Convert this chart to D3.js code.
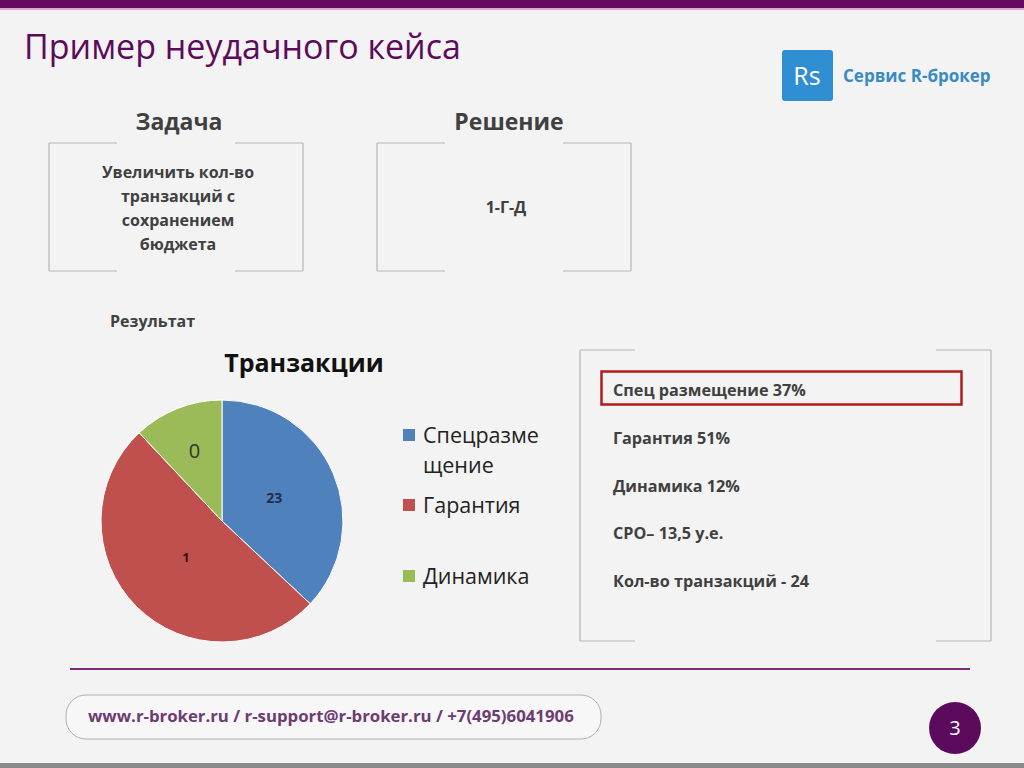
<!DOCTYPE html>
<html>
<head>
<meta charset="utf-8">
<script src="https://cdn.jsdelivr.net/npm/d3@7"></script>
<style>
	body { margin: 0; background: #f3f3f3; }
	text { font-family: "Open Sans", Lato, sans-serif; }
</style>
</head>
<body>
<script>
var width	= 1024,
	height	= 768;

// pie data
var categories	= ["Спецразмещение", "Гарантия", "Динамика"],
	legendLines	= [["Спецразме", "щение"], ["Гарантия"], ["Динамика"]],
	shares		= [37, 51, 12],
	sliceLabels	= ["23", "1", "0"],
	colors		= ["#4f81bd", "#c0504d", "#9bbb59"];

// text blocks
var taskLines	= ["Увеличить кол-во", "транзакций с", "сохранением", "бюджета"],
	solution	= "1-Г-Д",
	resultLines	= ["Спец размещение 37%", "Гарантия 51%", "Динамика 12%", "СРО– 13,5 у.е.", "Кол-во транзакций - 24"];

var svg = d3.select("body")
	.append("svg")
	.attr("width", width)
	.attr("height", height);

svg.append("rect")
	.attr("width", width)
	.attr("height", height)
	.attr("fill", "#f3f3f3");

// top bar + bottom edge
svg.append("rect").attr("x", 0).attr("y", 0).attr("width", width).attr("height", 8).attr("fill", "#650a5f");
svg.append("rect").attr("x", 0).attr("y", 8).attr("width", width).attr("height", 2).attr("fill", "#d9a8d3");
svg.append("rect").attr("x", 0).attr("y", 763).attr("width", width).attr("height", 5).attr("fill", "#8a8a8a");

svg.append("text")
	.attr("x", 24).attr("y", 59)
	.attr("font-size", 34)
	.attr("fill", "#5e0a5a")
	.text("Пример неудачного кейса");

// logo
svg.append("rect")
	.attr("x", 782).attr("y", 50).attr("width", 51).attr("height", 51).attr("rx", 3)
	.attr("fill", "#2f8fd2");
svg.append("text")
	.attr("x", 807).attr("y", 85).attr("text-anchor", "middle")
	.attr("font-size", 25).attr("fill", "#fff")
	.text("Rs");
svg.append("text")
	.attr("x", 843).attr("y", 82)
	.attr("font-size", 17).attr("font-weight", "bold").attr("fill", "#3a8bc2")
	.text("Сервис R-брокер");

// bracket-style frame
function frame(x, y, w, h, gap) {
	var g = svg.append("g").attr("stroke", "#b5b5b5").attr("stroke-width", 1.2).attr("fill", "none");
	g.append("line").attr("x1", x).attr("y1", y).attr("x2", x).attr("y2", y + h);
	g.append("line").attr("x1", x + w).attr("y1", y).attr("x2", x + w).attr("y2", y + h);
	[y, y + h].forEach(function(yy) {
		g.append("line").attr("x1", x).attr("y1", yy).attr("x2", x + gap).attr("y2", yy);
		g.append("line").attr("x1", x + w - gap).attr("y1", yy).attr("x2", x + w).attr("y2", yy);
	});
}

svg.append("text").attr("x", 179).attr("y", 130).attr("text-anchor", "middle")
	.attr("font-size", 23).attr("font-weight", "bold").attr("fill", "#404040").text("Задача");
svg.append("text").attr("x", 509).attr("y", 130).attr("text-anchor", "middle")
	.attr("font-size", 23).attr("font-weight", "bold").attr("fill", "#404040").text("Решение");

frame(49, 143, 254, 128, 68);
frame(377, 143, 254, 128, 68);

svg.selectAll(".task")
	.data(taskLines)
	.enter().append("text")
	.attr("x", 178)
	.attr("y", function(d, i) { return 178 + i * 24; })
	.attr("text-anchor", "middle")
	.attr("font-size", 16).attr("font-weight", "bold").attr("fill", "#404040")
	.text(function(d) { return d; });

svg.append("text").attr("x", 506).attr("y", 213).attr("text-anchor", "middle")
	.attr("font-size", 16).attr("font-weight", "bold").attr("fill", "#404040").text(solution);

svg.append("text").attr("x", 110).attr("y", 327)
	.attr("font-size", 16).attr("font-weight", "bold").attr("fill", "#404040").text("Результат");

// chart
svg.append("text").attr("x", 304).attr("y", 372).attr("text-anchor", "middle")
	.attr("font-size", 25).attr("font-weight", "bold").attr("fill", "#111").text("Транзакции");

var radius = 121,
	pie = d3.pie().sort(null).value(function(d) { return d; }),
	arc = d3.arc().innerRadius(0).outerRadius(radius),
	labelR = [57, 51, 75];

var arcs = pie(shares);
var pieG = svg.append("g").attr("transform", "translate(222,521)");

pieG.selectAll("path")
	.data(arcs)
	.enter().append("path")
	.attr("d", arc)
	.attr("fill", function(d, i) { return colors[i]; })
	.attr("stroke", "#fff")
	.attr("stroke-width", 1);

var labelFont = [{ s: 14, w: "bold", c: "#1f2d4d" }, { s: 13, w: "bold", c: "#3b1010" }, { s: 20, w: "normal", c: "#333" }];

pieG.selectAll(".lbl")
	.data(arcs)
	.enter().append("text")
	.attr("transform", function(d, i) {
		var c = d3.arc().innerRadius(labelR[i]).outerRadius(labelR[i]).centroid(d);
		return "translate(" + c + ")";
	})
	.attr("text-anchor", "middle")
	.attr("dy", "0.35em")
	.attr("font-size", function(d, i) { return labelFont[i].s; })
	.attr("font-weight", function(d, i) { return labelFont[i].w; })
	.attr("fill", function(d, i) { return labelFont[i].c; })
	.text(function(d, i) { return sliceLabels[i]; });

// legend
var legendY = [429, 499, 570];
var leg = svg.selectAll(".leg")
	.data(categories)
	.enter().append("g")
	.attr("transform", function(d, i) { return "translate(403," + legendY[i] + ")"; });

leg.append("rect")
	.attr("width", 12).attr("height", 12)
	.attr("fill", function(d, i) { return colors[i]; });

leg.each(function(d, i) {
	d3.select(this).selectAll("text")
		.data(legendLines[i])
		.enter().append("text")
		.attr("x", 20)
		.attr("y", function(t, j) { return 14 + j * 30; })
		.attr("font-size", 21.5).attr("fill", "#222")
		.text(function(t) { return t; });
});

// result panel
frame(580, 350, 411, 291, 55);
svg.append("rect")
	.attr("x", 601.5).attr("y", 371.5).attr("width", 360).attr("height", 33)
	.attr("fill", "none").attr("stroke", "#b01c1c").attr("stroke-width", 2.5);

svg.selectAll(".res")
	.data(resultLines)
	.enter().append("text")
	.attr("x", 613)
	.attr("y", function(d, i) { return 396 + i * 47.8; })
	.attr("font-size", 16.2).attr("font-weight", "bold").attr("fill", "#404040")
	.text(function(d) { return d; });

// footer
svg.append("line")
	.attr("x1", 70).attr("y1", 669).attr("x2", 970).attr("y2", 669)
	.attr("stroke", "#7b2c78").attr("stroke-width", 2);

svg.append("rect")
	.attr("x", 66).attr("y", 695).attr("width", 535).attr("height", 44).attr("rx", 20)
	.attr("fill", "#f7f7f7").attr("stroke", "#b0b0b0").attr("stroke-width", 1);
svg.append("text").attr("x", 88).attr("y", 722)
	.attr("font-size", 16.8).attr("font-weight", "bold").attr("fill", "#6d3c72")
	.text("www.r-broker.ru / r-support@r-broker.ru / +7(495)6041906");

svg.append("circle").attr("cx", 955).attr("cy", 728).attr("r", 26).attr("fill", "#5c0b5c");
svg.append("text").attr("x", 955).attr("y", 735).attr("text-anchor", "middle")
	.attr("font-size", 20).attr("fill", "#fff").text("3");
</script>
</body>
</html>
